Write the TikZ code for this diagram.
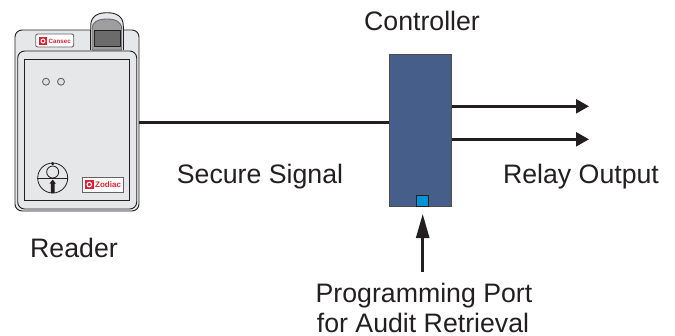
\documentclass[tikz,border=0pt]{standalone}
\usepackage{fontspec}
\setmainfont{Liberation Sans}
\usetikzlibrary{arrows.meta}
\definecolor{panel}{HTML}{E6E7E9}
\definecolor{ink}{HTML}{231F20}
\definecolor{ctrl}{HTML}{465E8A}
\definecolor{portc}{HTML}{0092D6}
\definecolor{logored}{HTML}{E01F30}
\tikzset{
  lab/.style={font=\fontsize{26.7}{30}\selectfont, text=ink, anchor=base, inner sep=0pt},
  wire/.style={draw=ink, line width=2.5pt},
  shell/.style={draw=ink, line width=0.9pt, fill=panel},
  logo/.style={draw=ink!70, line width=0.9pt, fill=white},
  logotext/.style={font=\bfseries, text=logored, inner sep=0pt, anchor=west},
  headr/.style={-{Triangle[length=13pt,width=14pt]}},
  headu/.style={-{Triangle[length=24pt,width=13pt]}},
}
\begin{document}
\begin{tikzpicture}[x=1pt,y=-1pt]
\useasboundingbox (0,0) rectangle (675,335);
% fingerprint window housing
\draw[shell, fill=panel] (90.7,50) -- (90.7,26) .. controls (90.7,16) and (98,12.7) .. (107,12.7) .. controls (116,12.7) and (123.3,16) .. (123.3,26) -- (123.3,50);
% reader body
\node[shell, rounded corners=7pt, minimum width=124pt, minimum height=181pt, inner sep=0pt] (reader) at (77,120.5) {};
\fill[panel] (91.2,29) rectangle (122.8,40);
\draw[draw=ink!70, line width=0.8pt, fill=black!38] (92,50) -- (92,29) .. controls (92,22) and (98,19) .. (107,19) .. controls (116,19) and (121.7,22) .. (121.7,29) -- (121.7,50) -- cycle;
\draw[ink, line width=0.9pt, fill=black!58] (94,30.3) rectangle (120,46.7);
\draw[ink, line width=0.8pt] (90.7,30) -- (90.7,50) (123.3,30) -- (123.3,50);
% panel
\node[shell, rounded corners=7pt, minimum width=119pt, minimum height=158pt, inner sep=0pt] (panelbox) at (77.2,130) {};
\node[shell, minimum width=105.5pt, minimum height=141.5pt, inner sep=0pt, line width=1pt] (window) at (77.2,130.2) {};
% LEDs
\node[circle, draw=ink!75, line width=0.8pt, fill=black!12, minimum size=7pt, inner sep=0pt] (ledA) at (46,81.7) {};
\node[circle, draw=ink!75, line width=0.8pt, fill=black!12, minimum size=7pt, inner sep=0pt] (ledB) at (61,81.7) {};
% key symbol
\node[circle, draw=ink, line width=0.8pt, minimum size=30pt, inner sep=0pt] (dial) at (52.7,178) {};
\node[circle, draw=ink, line width=0.8pt, minimum size=12pt, inner sep=0pt] (hub) at (52.7,172) {};
\draw[ink, line width=0.8pt] (dial.west) -- (dial.east);
\fill[ink] (52.7,163.7) circle (1.7pt);
\fill[ink] (50.9,193) -- (50.9,183.5) -- (49.6,183.5) -- (52.7,179.5) -- (55.8,183.5) -- (54.5,183.5) -- (54.5,193) -- cycle;
% logos
\node[logo, rounded corners=2pt, minimum width=38pt, minimum height=13pt, inner sep=0pt] (cansec) at (54.7,40.5) {};
\fill[logored] (39,37) rectangle (47,45);
\draw[white, line width=1pt] (43,41) circle (2pt);
\node[logotext, font=\bfseries\fontsize{6.2}{7}\selectfont] (cansectext) at (48.5,41) {Cansec};
\node[logo, minimum width=41pt, minimum height=15pt, inner sep=0pt] (zodiac) at (102.5,184.5) {};
\fill[logored] (85,180) rectangle (93.7,189);
\draw[white, line width=1.1pt] (89.3,184.5) circle (2.3pt);
\node[logotext, font=\bfseries\fontsize{8}{9}\selectfont] (zodiactext) at (95,185) {Zodiac};
% controller
\node[draw=ink!80, line width=0.8pt, fill=ctrl, minimum width=62.4pt, minimum height=152pt, inner sep=0pt] (controller) at (420.5,130) {};
\node[draw=ink, line width=0.9pt, fill=portc, minimum width=12.4pt, minimum height=11pt, inner sep=0pt] (port) at (422.5,200.5) {};
% connectors
\draw[wire] (reader.east |- 0,122.7) -- (controller.west |- 0,122.7);
\coordinate (outA) at (589,106.3);
\coordinate (outB) at (589,139.3);
\coordinate (progEnd) at (422.7,272);
\coordinate (progTip) at (422.7,214);
\draw[wire, headr] (controller.east |- outA) -- (outA);
\draw[wire, headr] (controller.east |- outB) -- (outB);
\draw[wire, headu] (progEnd) -- (progTip);
% labels
\node[lab] (lController) at (422,30) {Controller};
\node[lab] (lReader) at (74,257) {Reader};
\node[lab] (lSecure) at (260,183.5) {Secure Signal};
\node[lab] (lRelay) at (581,183.5) {Relay Output};
\node[lab] (lProgA) at (424,302) {Programming Port};
\node[lab] (lProgB) at (423,332) {for Audit Retrieval};
\end{tikzpicture}
\end{document}
